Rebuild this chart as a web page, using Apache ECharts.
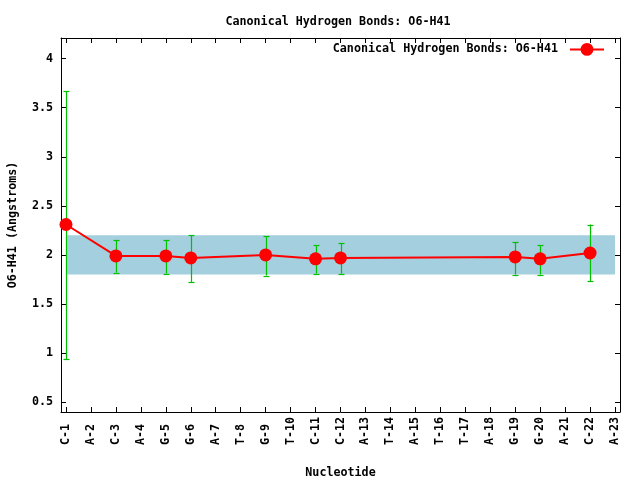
<!DOCTYPE html>
<html>
<head>
<meta charset="utf-8">
<script src="https://cdn.jsdelivr.net/npm/echarts@6/dist/echarts.min.js"></script>
<style>
  html, body { margin: 0; padding: 0; background: #fff; }
  #main { width: 640px; height: 480px; }
</style>
</head>
<body>
<div id="main"></div>
<script>
// nucleotides along the x axis
const categories = ['C-1', 'A-2', 'C-3', 'A-4', 'G-5', 'G-6', 'A-7', 'T-8', 'G-9', 'T-10', 'C-11', 'C-12',
  'A-13', 'T-14', 'A-15', 'T-16', 'T-17', 'A-18', 'G-19', 'G-20', 'A-21', 'C-22', 'A-23'];
// measured positions (1-based index into categories)
const positions = [1, 3, 5, 6, 9, 11, 12, 19, 20, 22];
const means = [2.31, 1.99, 1.99, 1.97, 2.00, 1.96, 1.97, 1.98, 1.96, 2.02];
const lows = [0.94, 1.82, 1.81, 1.72, 1.79, 1.81, 1.81, 1.80, 1.80, 1.73];
const highs = [3.67, 2.15, 2.15, 2.20, 2.19, 2.10, 2.12, 2.13, 2.10, 2.31];
// canonical range band
const bandRange = [1.8, 2.2];
const yTicks = [0.5, 1, 1.5, 2, 2.5, 3, 3.5, 4];

const seriesName = 'Canonical Hydrogen Bonds: O6-H41';
const font = 'DejaVu Sans Mono';
const fs = 11.7;
const xTicks = categories.map((c, i) => i + 1);

var chart = echarts.init(document.getElementById('main'));

const xBase = {
  type: 'value',
  min: 0.8,
  max: 23.2,
  splitLine: { show: false },
  axisLine: { lineStyle: { color: '#000', width: 1 } },
  axisTick: { inside: true, length: 5, lineStyle: { color: '#000' }, customValues: xTicks }
};
const yBase = {
  type: 'value',
  min: 0.4,
  max: 4.21,
  splitLine: { show: false },
  axisLine: { show: true, lineStyle: { color: '#000', width: 1 } },
  axisTick: { show: true, inside: true, length: 5, lineStyle: { color: '#000' }, customValues: yTicks }
};

var option = {
  animation: false,
  textStyle: { fontFamily: font },
  title: {
    text: 'Canonical Hydrogen Bonds: O6-H41',
    left: 333,
    textAlign: 'center',
    top: 11,
    textStyle: { fontFamily: font, fontSize: fs, fontWeight: 'bold', color: '#000' }
  },
  legend: {
    data: [seriesName],
    right: 30,
    top: 38,
    align: 'right',
    itemWidth: 34,
    itemHeight: 16,
    formatter: name => name + ' ',
    textStyle: { fontFamily: font, fontSize: fs, fontWeight: 'bold', color: '#000' }
  },
  grid: { left: 61, right: 20, top: 38, bottom: 68, outerBoundsMode: 'none', containLabel: false },
  xAxis: [
    Object.assign({}, xBase, {
      position: 'bottom',
      name: 'Nucleotide',
      nameLocation: 'middle',
      nameGap: 55,
      nameTextStyle: { fontFamily: font, fontSize: fs, fontWeight: 'bold', color: '#000' },
      axisLabel: {
        customValues: xTicks,
        rotate: 90,
        align: 'left',
        verticalAlign: 'middle',
        margin: 33,
        formatter: v => categories[Math.round(v) - 1],
        fontFamily: font, fontSize: fs, fontWeight: 'bold', color: '#000'
      }
    }),
    Object.assign({}, xBase, { position: 'top', axisLabel: { show: false } })
  ],
  yAxis: [
    Object.assign({}, yBase, {
      position: 'left',
      name: 'O6-H41 (Angstroms)',
      nameLocation: 'middle',
      nameGap: 42,
      nameTextStyle: { fontFamily: font, fontSize: fs, fontWeight: 'bold', color: '#000' },
      axisLabel: {
        customValues: yTicks,
        margin: 8,
        formatter: v => String(v),
        fontFamily: font, fontSize: fs, fontWeight: 'bold', color: '#000'
      }
    }),
    Object.assign({}, yBase, { position: 'right', axisLabel: { show: false } })
  ],
  series: [
    {
      // light blue band
      type: 'custom',
      xAxisIndex: 0,
      yAxisIndex: 0,
      z: 1,
      silent: true,
      data: [[1, xTicks.length, bandRange[0], bandRange[1]]],
      renderItem: function (params, api) {
        const p1 = api.coord([api.value(0), api.value(3)]);
        const p2 = api.coord([api.value(1), api.value(2)]);
        return {
          type: 'rect',
          shape: { x: p1[0], y: p1[1], width: p2[0] - p1[0], height: p2[1] - p1[1] },
          style: { fill: '#a3cfde' }
        };
      }
    },
    {
      // error bars
      type: 'custom',
      xAxisIndex: 0,
      yAxisIndex: 0,
      z: 3,
      silent: true,
      data: positions.map((x, i) => [x, lows[i], highs[i]]),
      renderItem: function (params, api) {
        const lo = api.coord([api.value(0), api.value(1)]);
        const hi = api.coord([api.value(0), api.value(2)]);
        const x = Math.round(lo[0]) + 0.5;
        const w = 3;
        const st = { stroke: '#00c000', lineWidth: 1.2 };
        return {
          type: 'group',
          children: [
            { type: 'line', shape: { x1: x, y1: lo[1], x2: x, y2: hi[1] }, style: st },
            { type: 'line', shape: { x1: x - w, y1: Math.round(lo[1]) + 0.5, x2: x + w, y2: Math.round(lo[1]) + 0.5 }, style: st },
            { type: 'line', shape: { x1: x - w, y1: Math.round(hi[1]) + 0.5, x2: x + w, y2: Math.round(hi[1]) + 0.5 }, style: st }
          ]
        };
      }
    },
    {
      name: seriesName,
      type: 'line',
      xAxisIndex: 0,
      yAxisIndex: 0,
      z: 4,
      data: positions.map((x, i) => [x, means[i]]),
      symbol: 'circle',
      symbolSize: 13,
      lineStyle: { color: '#ff0000', width: 2 },
      itemStyle: { color: '#ff0000' }
    }
  ]
};
option && chart.setOption(option);
</script>
</body>
</html>
